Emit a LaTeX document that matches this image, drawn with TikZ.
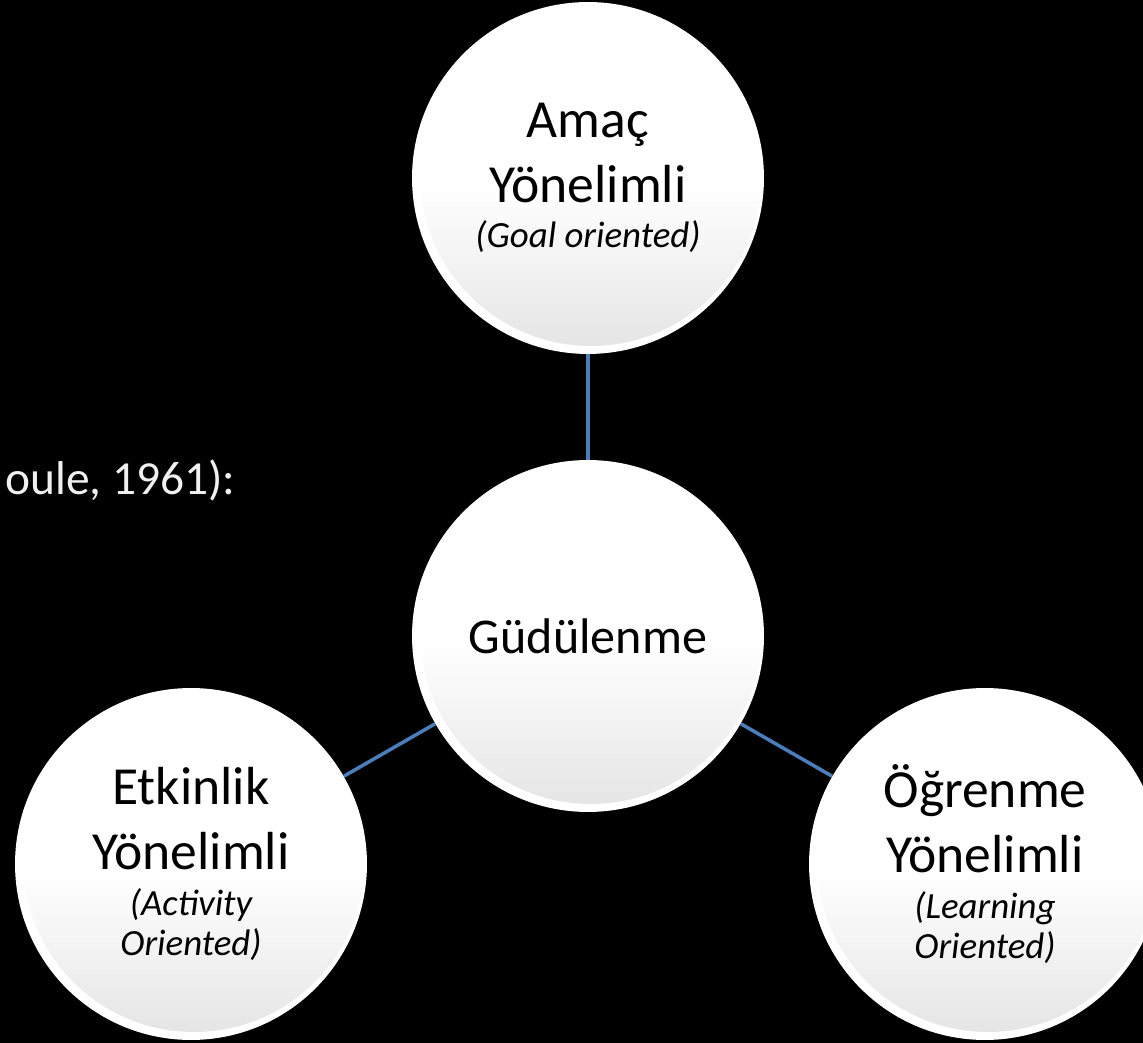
\documentclass[tikz,border=0pt]{standalone}
\usepackage{fontspec}
\setmainfont{Carlito}
\definecolor{linkblue}{RGB}{74,126,187}
\definecolor{rimgray}{RGB}{228,228,228}
\pgfdeclareverticalshading{bubbleshade}{100bp}{color(0bp)=(rimgray); color(25bp)=(rimgray); color(49bp)=(white); color(100bp)=(white)}
\tikzset{
  bubble/.style={circle, fill=white, inner sep=0pt, minimum size=7.04cm,
    align=center, font=\fontsize{30.5}{37}\selectfont,
    path picture={\shade[shading=bubbleshade]
      ([xshift=0.06cm,yshift=0.06cm]path picture bounding box.center) circle (3.42cm);}},
  link/.style={draw=linkblue, line width=2pt},
}
\newcommand{\subline}[1]{{\fontsize{21}{23}\itshape #1}}
\begin{document}
\begin{tikzpicture}[x=0.02cm, y=-0.02cm]
  \fill[black] (0,0) rectangle (1143,1043);
  \useasboundingbox (0,0) rectangle (1143,1043);
  % left side text, cut off by the picture edge
  \node[anchor=base west, inner sep=0pt, text=white!94!black,
        font=\fontsize{27}{33}\selectfont] (cite) at (5,495) {oule, 1961):};
  % the four bubbles
  \node[bubble, font=\fontsize{28.5}{34}\selectfont] (motive) at (588,636) {Güdülenme};
  \node[bubble] (goal) at (588,178) {Amaç\\Yönelimli\\[-11pt]\subline{(Goal oriented)}};
  \node[bubble] (activity) at (191,864) {Etkinlik\\Yönelimli\\[-11pt]\subline{(Activity}\\[-14pt]\subline{Oriented)}};
  \node[bubble] (learning) at (985,864) {Öğrenme\\Yönelimli\\[-11pt]\subline{(Learning}\\[-14pt]\subline{Oriented)}};
  % links to the centre
  \foreach \n in {goal,activity,learning} {
    \draw[link] (motive) -- (\n);
  }
\end{tikzpicture}
\end{document}
